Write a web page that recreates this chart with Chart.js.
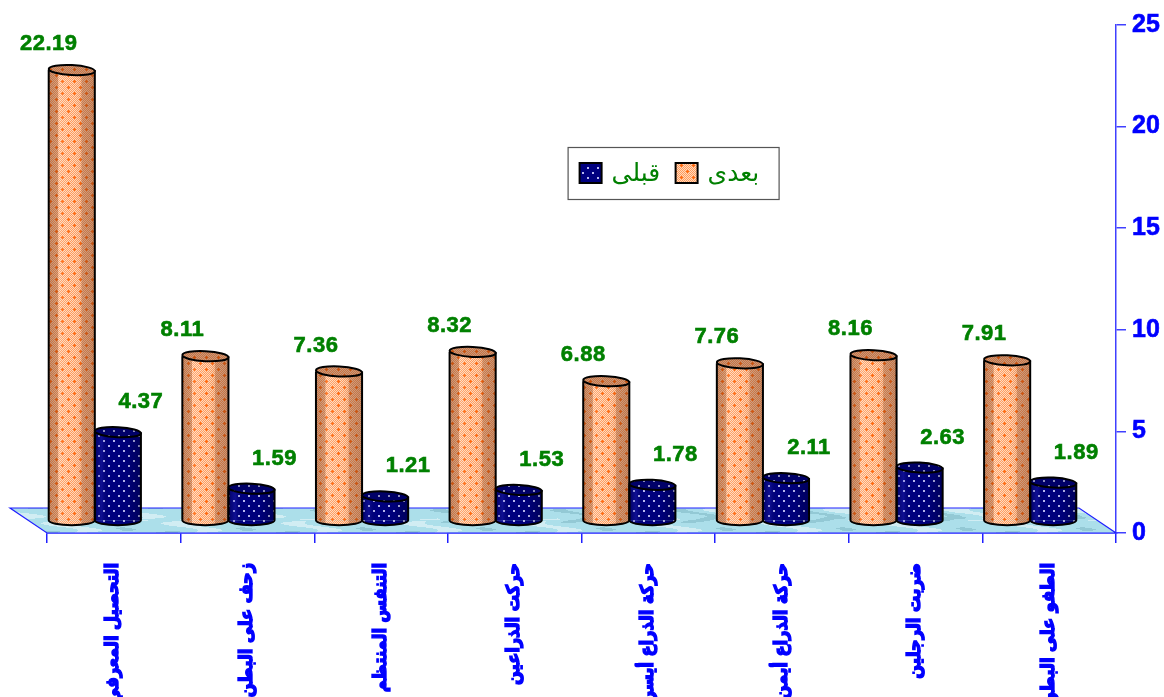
<!DOCTYPE html>
<html><head><meta charset="utf-8">
<style>html,body{margin:0;padding:0;background:#fff;overflow:hidden}#wrap{width:1164px;height:697px}</style>
<script src="https://cdn.jsdelivr.net/npm/chart.js@4.4.1/dist/chart.umd.min.js"></script>
</head><body><div id="wrap"><canvas id="c" width="1164" height="697"></canvas></div>
<script>
const categories = ['التحصيل المعرفي','زحف على البطن','التنفس المنتظم','حركت الذراعين','حركة الذراع أيسر','حركة الذراع أيمن','ضربت الرجلين','الطفو على البطن'];
const seriesNames = ['بعدى','قبلى'];
const afterValues = [22.19, 8.11, 7.36, 8.32, 6.88, 7.76, 8.16, 7.91];
const beforeValues = [4.37, 1.59, 1.21, 1.53, 1.78, 2.11, 2.63, 1.89];
const yTicks = [0, 5, 10, 15, 20, 25];

// 3D look parameters
const DEPTH_FLOOR = {dx: -37, dy: -25};
const DEPTH_BAR = {dx: -19, dy: -12};
const CAP_RY = 5;

function makeOrangePattern(ctx) {
  const t = document.createElement('canvas'); t.width = 12; t.height = 12;
  const g = t.getContext('2d');
  for (let y = 0; y < 12; y++) for (let x = 0; x < 12; x++) {
    g.fillStyle = ((x + y) % 2 === 0) ? '#FF9A5C' : '#FFD9BC';
    g.fillRect(x, y, 1, 1);
  }
  g.fillStyle = '#FF6A10';
  [[3,3],[9,9]].forEach(([cx, cy]) => { g.fillRect(cx-1, cy, 3, 1); g.fillRect(cx, cy-1, 1, 3); });
  return ctx.createPattern(t, 'repeat');
}
function makeNavyPattern(ctx) {
  const t = document.createElement('canvas'); t.width = 10; t.height = 10;
  const g = t.getContext('2d');
  g.fillStyle = '#000080'; g.fillRect(0, 0, 10, 10);
  g.fillStyle = '#B8B8F0';
  g.fillRect(2, 2, 2, 2); g.fillRect(7, 7, 2, 2);
  return ctx.createPattern(t, 'repeat');
}
function makeFloorPattern(ctx) {
  const t = document.createElement('canvas'); t.width = 120; t.height = 26;
  const g = t.getContext('2d');
  g.fillStyle = '#ACDFEA'; g.fillRect(0, 0, 120, 26);
  for (let x = 0; x < 120; x++) for (let y = 0; y < 26; y++) {
    const v = Math.sin(x * 0.11 + Math.sin(y * 0.5) * 2) + Math.sin(x * 0.05 - y * 0.3);
    if (v > 1.1) { g.fillStyle = 'rgba(255,255,255,0.45)'; g.fillRect(x, y, 1, 1); }
    else if (v < -1.2) { g.fillStyle = 'rgba(100,160,175,0.35)'; g.fillRect(x, y, 1, 1); }
  }
  return ctx.createPattern(t, 'repeat');
}

const canvas = document.getElementById('c');
const ctx0 = canvas.getContext('2d');
const orangePat = makeOrangePattern(ctx0);
const navyPat = makeNavyPattern(ctx0);
const floorPat = makeFloorPattern(ctx0);

const threeD = {
  id: 'threeD',
  beforeDatasetsDraw(chart) {
    const {ctx, chartArea: a} = chart;
    ctx.save();
    ctx.beginPath();
    ctx.moveTo(a.left, a.bottom);
    ctx.lineTo(a.right, a.bottom);
    ctx.lineTo(a.right + DEPTH_FLOOR.dx, a.bottom + DEPTH_FLOOR.dy);
    ctx.lineTo(a.left + DEPTH_FLOOR.dx, a.bottom + DEPTH_FLOOR.dy);
    ctx.closePath();
    ctx.fillStyle = floorPat; ctx.fill();
    ctx.strokeStyle = '#2020FF'; ctx.lineWidth = 1.2; ctx.stroke();
    ctx.restore();
    ctx.save();
    ctx.translate(DEPTH_BAR.dx, DEPTH_BAR.dy);
  },
  afterDatasetsDraw(chart) {
    const {ctx} = chart;
    chart.data.datasets.forEach((ds, di) => {
      const meta = chart.getDatasetMeta(di);
      const pat = di === 0 ? orangePat : navyPat;
      meta.data.forEach(bar => {
        const w = bar.width, L = bar.x - w / 2, R = bar.x + w / 2, top = bar.y, base = bar.base;
        ctx.beginPath();
        ctx.ellipse(bar.x, base, w / 2, CAP_RY, 0, 0, Math.PI);
        ctx.fillStyle = pat; ctx.fill();
        const body = new Path2D();
        body.moveTo(L, top); body.lineTo(L, base);
        body.ellipse(bar.x, base, w / 2, CAP_RY, 0, Math.PI, 0, true);
        body.lineTo(R, top); body.closePath();
        const gr = ctx.createLinearGradient(L, 0, R, 0);
        if (di === 0) {
          gr.addColorStop(0, 'rgba(120,60,30,0.45)');
          gr.addColorStop(0.2, 'rgba(120,60,30,0.32)');
          gr.addColorStop(0.22, 'rgba(255,255,255,0.12)');
          gr.addColorStop(0.5, 'rgba(255,255,255,0.0)');
          gr.addColorStop(0.7, 'rgba(120,60,30,0.10)');
          gr.addColorStop(0.72, 'rgba(120,60,30,0.35)');
          gr.addColorStop(1, 'rgba(120,60,30,0.45)');
        } else {
          gr.addColorStop(0, 'rgba(0,0,40,0.35)');
          gr.addColorStop(0.15, 'rgba(60,60,200,0.25)');
          gr.addColorStop(0.3, 'rgba(0,0,0,0)');
          gr.addColorStop(0.7, 'rgba(0,0,0,0.05)');
          gr.addColorStop(1, 'rgba(0,0,30,0.35)');
        }
        ctx.fillStyle = gr; ctx.fill(body);
        ctx.lineWidth = 2; ctx.strokeStyle = '#000'; ctx.lineJoin = 'round';
        const outline = new Path2D();
        outline.moveTo(L, top); outline.lineTo(L, base);
        outline.ellipse(bar.x, base, w / 2, CAP_RY, 0, Math.PI, 0, true);
        outline.lineTo(R, top);
        ctx.stroke(outline);
        ctx.beginPath();
        ctx.ellipse(bar.x, top, w / 2, CAP_RY, 0.05, 0, Math.PI * 2);
        ctx.fillStyle = pat; ctx.fill();
        ctx.fillStyle = di === 0 ? 'rgba(110,50,20,0.38)' : 'rgba(0,0,30,0.25)'; ctx.fill();
        ctx.stroke();
      });
    });
    ctx.restore();
    // value labels
    ctx.save();
    ctx.font = 'bold 22px "Liberation Sans", Arial, sans-serif';
    ctx.fillStyle = '#008000';
    ctx.strokeStyle = '#008000'; ctx.lineWidth = 0.6;
    ctx.textAlign = 'center'; ctx.textBaseline = 'middle';
    try { ctx.letterSpacing = '0.5px'; } catch (e) {}
    const off = [{dx: -23, dy: -26}, {dx: 23, dy: -30}];
    chart.data.datasets.forEach((ds, di) => {
      chart.getDatasetMeta(di).data.forEach((bar, i) => {
        const tx = bar.x + DEPTH_BAR.dx + off[di].dx, ty = bar.y + DEPTH_BAR.dy + off[di].dy;
        const s = ds.data[i].toFixed(2);
        ctx.fillText(s, tx, ty); ctx.strokeText(s, tx, ty);
      });
    });
    ctx.restore();
    // legend
    const a = chart.chartArea;
    const bx = a.left + (a.right - a.left) * 0.487, by = a.top + 122, bw = 211, bh = 52;
    ctx.save();
    ctx.fillStyle = '#fff'; ctx.fillRect(bx, by, bw, bh);
    ctx.strokeStyle = '#555'; ctx.lineWidth = 1.2; ctx.strokeRect(bx + 0.5, by + 0.5, bw, bh);
    const items = [{name: seriesNames[1], pat: navyPat, x: 12}, {name: seriesNames[0], pat: orangePat, x: 108}];
    ctx.font = '25px "DejaVu Sans", sans-serif';
    ctx.textBaseline = 'middle'; ctx.textAlign = 'left';
    const cy = by + bh / 2;
    items.forEach(it => {
      const x = bx + it.x;
      ctx.fillStyle = it.pat; ctx.fillRect(x, cy - 10, 22, 20);
      ctx.strokeStyle = '#000'; ctx.lineWidth = 2; ctx.strokeRect(x, cy - 10, 22, 20);
      ctx.fillStyle = '#008000';
      ctx.fillText(it.name, x + 32, cy + 1);
    });
    ctx.restore();
  }
};

new Chart(canvas, {
  type: 'bar',
  data: {
    labels: categories,
    datasets: [
      {label: seriesNames[0], data: afterValues, backgroundColor: orangePat, borderWidth: 0, categoryPercentage: 0.69, barPercentage: 1, clip: false},
      {label: seriesNames[1], data: beforeValues, backgroundColor: navyPat, borderWidth: 0, categoryPercentage: 0.69, barPercentage: 1, clip: false}
    ]
  },
  options: {
    responsive: false, animation: false, devicePixelRatio: 1,
    layout: {padding: {left: 47, top: 25, right: 0, bottom: 0}},
    plugins: {legend: {display: false}, tooltip: {enabled: false}},
    scales: {
      x: {
        position: 'bottom',
        grid: {offset: true, drawOnChartArea: false, drawTicks: true, tickLength: 10, color: '#2020FF', lineWidth: 1.5},
        border: {display: true, color: '#2020FF', width: 1.5},
        ticks: {autoSkip: false, maxRotation: 90, minRotation: 90, color: '#0000FF', padding: 20,
          textStrokeColor: '#0000FF', textStrokeWidth: 1.4,
          font: {family: '"DejaVu Sans Condensed", "DejaVu Sans", sans-serif', weight: 'bold', size: 18}},
        afterFit(s) { s.height = 164; }
      },
      y: {
        position: 'right', min: 0, max: 25,
        afterBuildTicks(s) { s.ticks = yTicks.map(v => ({value: v})); },
        grid: {drawOnChartArea: false, drawTicks: true, tickLength: 10, color: '#4040FF', lineWidth: 1.5},
        border: {display: true, color: '#4040FF', width: 1.5},
        ticks: {color: '#0000FF', padding: 6, textStrokeColor: '#0000FF', textStrokeWidth: 0.6,
          font: {family: '"Liberation Sans", Arial, sans-serif', weight: 'bold', size: 25}},
        afterFit(s) { s.width = 48; }
      }
    }
  },
  plugins: [threeD]
});
</script></body></html>
